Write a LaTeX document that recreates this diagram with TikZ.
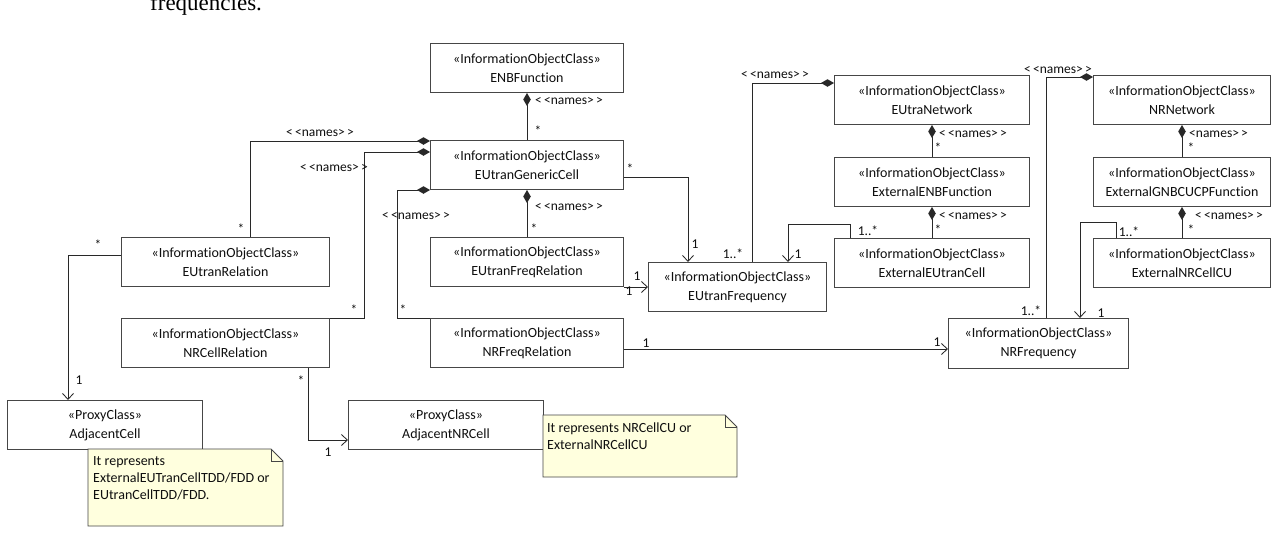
\documentclass[tikz,border=0pt]{standalone}
\usepackage{fontspec}
\setmainfont{Carlito}[Ligatures=NoCommon]
\newfontfamily\serifb{Liberation Serif}
\usetikzlibrary{arrows.meta,calc}
\definecolor{boxc}{RGB}{70,70,70}
\definecolor{linec}{RGB}{40,40,40}
\definecolor{txtc}{RGB}{15,15,15}
\definecolor{notef}{RGB}{255,255,222}
\tikzset{
  cls/.style n args={2}{draw=boxc, line width=1pt, fill=white, anchor=north west,
    inner sep=0pt, minimum width=#1, minimum height=#2, align=center,
    font=\fontsize{14}{19}\selectfont, text=txtc},
  conn/.style={draw=linec, line width=0.85pt},
  comp/.style={conn, {Diamond[length=13pt,width=7.5pt]}-},
  nav/.style={conn, -{Straight Barb[length=6pt,width=11pt]}},
  lbl/.style={font=\fontsize{13.5}{15}\selectfont, text=txtc, inner sep=0pt},
  notebox/.style={draw=boxc, line width=0.9pt, fill=notef},
  notetxt/.style={font=\fontsize{14}{17}\selectfont, text=txtc, inner sep=0pt, anchor=north west, align=left}
}
\newcommand{\nm}{<\,<names>\,>}
\begin{document}
\begin{tikzpicture}[x=1pt,y=-1pt]
\useasboundingbox (0,0) rectangle (1276,536);
\clip (0,0) rectangle (1276,536);
\fill[white] (0,0) rectangle (1276,536);
% cut-off text at top
\node[anchor=base west, inner sep=0pt, font=\serifb\fontsize{23}{26}\selectfont] (freq) at (150,10) {frequencies.};

% classes
\node[cls={193pt}{49pt}] (enb) at (430,43) {«InformationObjectClass»\\ENBFunction};
\node[cls={193pt}{49pt}] (gc) at (430,140) {«InformationObjectClass»\\EUtranGenericCell};
\node[cls={193pt}{49pt}] (efr) at (430,237) {«InformationObjectClass»\\EUtranFreqRelation};
\node[cls={193pt}{49pt}] (nfr) at (430,318) {«InformationObjectClass»\\NRFreqRelation};
\node[cls={208pt}{49pt}] (er) at (121,237) {«InformationObjectClass»\\EUtranRelation};
\node[cls={208pt}{49pt}] (ncr) at (121,318) {«InformationObjectClass»\\NRCellRelation};
\node[cls={195pt}{49pt}] (ac) at (7,400) {«ProxyClass»\\AdjacentCell};
\node[cls={195pt}{49pt}] (anr) at (348,400) {«ProxyClass»\\AdjacentNRCell};
\node[cls={178pt}{49pt}] (ef) at (648,262) {«InformationObjectClass»\\EUtranFrequency};
\node[cls={195pt}{49pt}] (en) at (834,75) {«InformationObjectClass»\\EUtraNetwork};
\node[cls={195pt}{49pt}] (eenb) at (834,157) {«InformationObjectClass»\\ExternalENBFunction};
\node[cls={195pt}{49pt}] (eec) at (834,238) {«InformationObjectClass»\\ExternalEUtranCell};
\node[cls={177pt}{49pt}] (nrn) at (1093,75) {«InformationObjectClass»\\NRNetwork};
\node[cls={177pt}{49pt}] (egnb) at (1093,157) {«InformationObjectClass»\\ExternalGNBCUCPFunction};
\node[cls={177pt}{49pt}] (encu) at (1093,238) {«InformationObjectClass»\\ExternalNRCellCU};
\node[cls={180pt}{50pt}] (nrf) at (948,318) {«InformationObjectClass»\\NRFrequency};

% notes
\draw[notebox] (88,449) -- (271,449) -- (283,461) -- (283,526) -- (88,526) -- cycle;
\draw[boxc, line width=0.8pt] (271,449) -- (271,461) -- (283,461);
\node[notetxt] (n1) at (93,456) {It represents\\ExternalEUTranCellTDD/FDD or\\EUtranCellTDD/FDD.};
\draw[notebox] (543,415) -- (725,415) -- (737,427) -- (737,477) -- (543,477) -- cycle;
\draw[boxc, line width=0.8pt] (725,415) -- (725,427) -- (737,427);
\node[notetxt] (n2) at (547,423) {It represents NRCellCU or\\ExternalNRCellCU};

% connectors
\draw[comp] (enb.south) -- (gc.north);
\node[lbl, anchor=west] at (535,101) {\nm};
\node[lbl] at (538,131) {*};

\draw[comp] ($(gc.north west)+(0,1)$) -| ($(er.north west)+(129,0)$);
\node[lbl] at (320,133) {\nm};
\node[lbl] at (241,229) {*};

\draw[comp] ($(gc.north west)+(0,12)$) -- ++(-66,0) |- (ncr.north east);
\node[lbl] at (334,168) {\nm};
\node[lbl] at (354,310) {*};

\draw[comp] (gc.south west) -- ++(-33,0) |- (nfr.north west);
\node[lbl] at (416,216) {\nm};
\node[lbl] at (403,310) {*};

\draw[comp] (gc.south) -- (efr.north);
\node[lbl, anchor=west] at (535,207) {\nm};
\node[lbl] at (534,229) {*};

\draw[nav] ($(gc.south east)+(0,-13)$) -| ($(ef.north west)+(40,0)$);
\node[lbl] at (630,169) {*};
\node[lbl] at (695,244) {1};

\draw[nav] (efr.south east) -- (efr.south east -| ef.west);
\node[lbl] at (637,276) {1};
\node[lbl] at (629,291) {1};

\draw[nav] ($(nfr.north east)+(0,31)$) -- ($(nrf.north west)+(0,31)$);
\node[lbl] at (646,343) {1};
\node[lbl] at (937,342) {1};

\draw[comp] ($(en.north west)+(0,8)$) -| ($(ef.north west)+(104,0)$);
\node[lbl] at (775,75) {\nm};
\node[lbl] at (733,254) {1..*};

\draw[nav] ($(eec.north west)+(16,0)$) -- ++(0,-14) -| ($(ef.north west)+(140,0)$);
\node[lbl] at (868,231) {1..*};
\node[lbl] at (798,254) {1};

\draw[comp] (en.south) -- (eenb.north);
\node[lbl, anchor=west] at (939,134) {\nm};
\node[lbl] at (938,148) {*};

\draw[comp] (eenb.south) -- (eec.north);
\node[lbl, anchor=west] at (939,216) {\nm};
\node[lbl] at (938,230) {*};

\draw[comp] ($(nrn.north west)+(0,2)$) -| ($(nrf.north west)+(98,0)$);
\node[lbl] at (1058,70) {\nm};
\node[lbl] at (1031,311) {1..*};

\draw[comp] (nrn.south) -- (egnb.north);
\node[lbl, anchor=west] at (1189,134) {<names>\,>};
\node[lbl] at (1191,148) {*};

\draw[comp] (egnb.south) -- (encu.north);
\node[lbl] at (1229,216) {\nm};
\node[lbl] at (1191,230) {*};

\draw[nav] ($(encu.north west)+(23,0)$) -- ++(0,-16) -| ($(nrf.north west)+(132,0)$);
\node[lbl] at (1129,232) {1..*};
\node[lbl] at (1101,313) {1};

\draw[nav] ($(er.north west)+(0,18)$) -| ($(ac.north west)+(61,0)$);
\node[lbl] at (98,245) {*};
\node[lbl] at (79,380) {1};

\draw[nav] ($(ncr.south west)+(187,0)$) |- ($(anr.north west)+(0,40)$);
\node[lbl] at (301,381) {*};
\node[lbl] at (328,452) {1};
\end{tikzpicture}
\end{document}
